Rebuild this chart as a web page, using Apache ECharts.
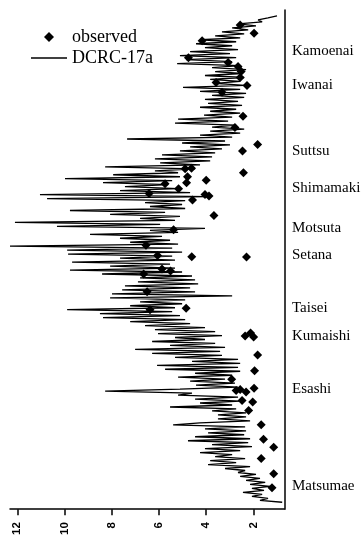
<!DOCTYPE html>
<html>
<head>
<meta charset="utf-8">
<script src="https://cdn.jsdelivr.net/npm/echarts@6/dist/echarts.min.js"></script>
<style>
html,body{margin:0;padding:0;background:#fff;}
#chart{width:362px;height:538px;}
</style>
</head>
<body>
<div id="chart"></div>
<script>
// Alongshore position (distance units from the north end) of the first model sample; samples are 1 unit apart.
const modelStart = 3;
// Model DCRC-17a values, north (top) to south (bottom)
const modelValues = [
1.00,1.38,1.80,1.63,2.65,1.89,2.90,2.22,3.33,2.39,
3.62,2.56,4.26,2.73,4.43,2.90,4.05,2.65,4.68,2.99,
5.11,2.73,4.85,2.90,5.23,2.56,3.75,2.31,3.62,2.48,
4.05,2.39,3.83,2.56,3.62,2.35,4.98,2.56,4.26,2.31,
3.75,2.39,4.05,2.65,3.92,2.48,4.26,2.73,3.83,2.56,
4.09,2.90,5.19,3.07,5.32,2.73,3.75,2.39,3.83,2.56,
4.26,2.90,7.35,3.20,5.02,2.99,4.68,3.33,5.11,3.62,
5.87,3.75,6.17,3.83,5.95,4.26,8.28,4.47,6.17,5.19,
7.94,5.11,9.98,5.44,8.37,5.61,7.44,5.19,7.65,4.68,
11.04,3.92,10.74,4.89,6.59,5.02,6.38,4.89,9.77,5.74,
8.07,5.11,6.80,5.32,12.10,5.95,10.32,4.05,6.38,5.19,
8.92,5.87,7.65,5.53,7.22,5.19,12.31,5.44,9.89,5.02,
9.85,5.44,7.65,5.32,9.68,5.53,8.07,5.32,9.77,5.02,
8.41,4.60,6.80,4.47,6.89,4.34,7.44,4.68,7.56,4.47,
7.99,2.90,8.07,4.89,6.80,5.02,7.22,5.32,9.89,5.44,
8.50,5.11,8.37,4.89,7.22,4.68,6.59,4.05,6.17,3.62,
6.04,3.33,5.32,4.05,6.29,3.62,5.53,3.20,7.01,3.41,
6.29,3.33,5.32,2.65,4.60,2.56,6.08,2.65,5.74,2.56,
4.47,2.90,5.19,3.20,4.68,2.78,4.43,2.65,5.11,8.28,
4.60,5.19,2.65,4.47,2.56,4.26,2.90,5.53,2.73,3.75,
2.31,3.50,2.31,3.50,2.14,4.26,5.40,2.35,4.05,2.31,
3.92,2.39,4.47,2.14,4.77,2.22,3.75,2.06,4.05,2.56,
4.26,2.90,3.62,2.35,3.83,2.73,3.92,2.14,3.20,2.35,
2.65,1.89,2.56,1.72,2.31,1.50,2.14,1.29,2.06,1.55,
2.44,1.63,2.06,1.38,1.72,0.78
];
// Observed values
const obsPos = [7.5,11.75,15.5,24,26.5,28.5,31,34,36.5,38,41.5,53.5,59.25,67.75,71,80,79.75,82,84,85.75,
  87.5,87,90,92.5,93,93.75,95.75,103.5,110.75,118.5,123.65,124.25,124.5,130.5,131.5,133,142,150.25,151,
  164.25,162.75,164.75,173.75,181.75,186,191.75,191.25,192.5,190.5,196.75,197.5,201.75,209,216.25,220.25,226,233.65,240.75];
const obsVal = [2.56,1.97,4.17,4.75,3.07,2.65,2.52,2.56,3.58,2.27,3.33,2.44,2.78,1.82,2.46,4.89,4.62,2.42,4.79,4.00,
  5.74,4.83,5.17,6.42,4.05,3.88,4.58,3.67,5.38,6.55,6.06,4.61,2.29,5.87,5.51,6.65,6.50,4.85,6.38,
  2.35,2.12,1.99,1.82,1.95,2.92,2.73,2.56,2.31,1.97,2.48,2.03,2.20,1.67,1.57,1.14,1.67,1.14,1.21];
// Place names and their alongshore positions
const places = ['Kamoenai','Iwanai','Suttsu','Shimamaki','Motsuta','Setana','Taisei','Kumaishi','Esashi','Matsumae'];
const placePos = [20.85,38,70.85,89.65,109.65,123.65,150,164.15,191.15,240];
// Tick labels
const xTicks = [2,4,6,8,10,12];

const modelData = modelValues.map((v,i)=>[v, modelStart + i]);
const obsData = obsVal.map((v,i)=>[v, obsPos[i]]);

const chart = echarts.init(document.getElementById('chart'), null, {renderer:'canvas'});
const option = {
  animation:false,
  backgroundColor:'#fff',
  grid:{left:10, right:77.7, top:10, bottom:25, containLabel:false},
  legend:{
    orient:'vertical', left:26, top:23, itemWidth:36, itemHeight:10, itemGap:3,
    symbolKeepAspect:true,
    textStyle:{fontFamily:'"Liberation Serif", serif', fontSize:18, color:'#000'},
    data:[
      {name:'observed', icon:'path://M5,0L10,5L5,10L0,5Z', itemStyle:{color:'#000', opacity:1}},
      {name:'DCRC-17a', icon:'path://M0,0L36,0L36,1.6L0,1.6Z', itemStyle:{color:'#000'}}
    ]
  },
  xAxis:{
    type:'value', inverse:true, min:0.69, max:12.31,
    splitLine:{show:false},
    axisLine:{show:true, onZero:false, lineStyle:{color:'#000', width:1.5}},
    axisTick:{show:true, length:6, lineStyle:{color:'#000', width:1.5}, customValues:xTicks},
    axisLabel:{show:true, rotate:90, margin:13, color:'#000', fontSize:11.5, fontWeight:'bold',
      fontFamily:'"Liberation Sans", Arial, sans-serif', customValues:xTicks}
  },
  yAxis:{
    type:'value', inverse:true, min:0, max:251.5, position:'right',
    splitLine:{show:false},
    axisLine:{show:true, onZero:false, lineStyle:{color:'#000', width:1.5}},
    axisTick:{show:false}, axisLabel:{show:false}
  },
  series:[
    {name:'DCRC-17a', type:'line', data:modelData, showSymbol:false, symbol:'none',
      lineStyle:{color:'#000', width:1.3}, itemStyle:{color:'#000'}, z:2},
    {name:'observed', type:'scatter', data:obsData, symbol:'diamond', symbolSize:9,
      itemStyle:{color:'#000', opacity:1}, z:3}
  ]
};
chart.setOption(option);

const gTexts = places.map((p,i)=>({
  type:'text',
  x:292,
  y:chart.convertToPixel({yAxisIndex:0}, placePos[i]),
  style:{text:p, fill:'#000', font:'15px "Liberation Serif", serif', verticalAlign:'middle', align:'left'}
}));
chart.setOption({graphic:gTexts});
</script>
</body>
</html>
